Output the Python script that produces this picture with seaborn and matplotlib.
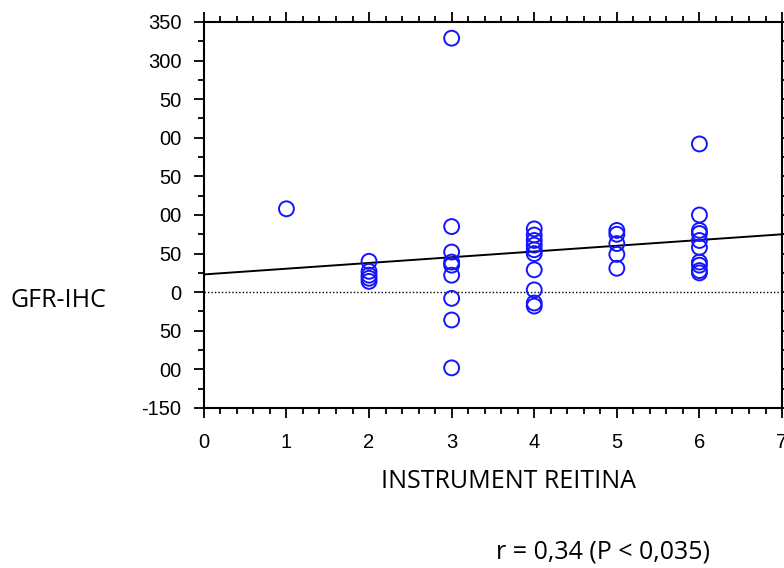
import matplotlib
matplotlib.use("Agg")
import matplotlib.pyplot as plt
import numpy as np
import pandas as pd
import seaborn as sns

# instrument score (x) and GFR-IHC value (y)
score_1 = [108]
score_2 = [40, 27, 22, 18, 14]
score_3 = [329, 85, 52, 39, 35, 22, -8, -36, -98]
score_4 = [82, 74, 67, 61, 55, 50, 29, 3, -14, -18]
score_5 = [80, 75, 63, 49, 31]
score_6 = [192, 100, 80, 76, 67, 58, 39, 35, 28, 25]

fit_x = [0, 7]
fit_y = [23, 75]

y_ticks = [-150, -100, -50, 0, 50, 100, 150, 200, 250, 300, 350]
y_tick_labels = ["-150", "00", "50", "0", "50", "00", "50", "00", "50", "300", "350"]
x_ticks = [0, 1, 2, 3, 4, 5, 6, 7]

x_label = "INSTRUMENT REITINA"
y_label = "GFR-IHC"
stat_text = "r = 0,34 (P < 0,035)"

groups = {1: score_1, 2: score_2, 3: score_3, 4: score_4, 5: score_5, 6: score_6}
df = pd.DataFrame(
    [(k, v) for k, vals in groups.items() for v in vals], columns=["score", "gfr"]
)

sns.set_style("ticks")
plt.rcParams["font.family"] = ["Liberation Sans", "DejaVu Sans"]
plt.rcParams["text.color"] = "black"

fig = plt.figure(figsize=(7.84, 5.68), dpi=100)
ax = fig.add_axes([0.260, 0.2817, 0.7375, 0.6796])

ax.axhline(0, color="black", linestyle=(0, (1, 1.5)), linewidth=1.0, zorder=1)
sns.lineplot(x=fit_x, y=fit_y, color="black", linewidth=1.4, ax=ax, zorder=2)
sns.scatterplot(
    data=df, x="score", y="gfr", marker="o", s=115,
    facecolors="none", edgecolor="#1414ff", linewidth=1.4, ax=ax, zorder=3,
)

ax.set_xlim(0, 7)
ax.set_ylim(-150, 350)
ax.set_xticks(x_ticks)
ax.set_xticklabels([str(t) for t in x_ticks])
ax.set_yticks(y_ticks)
ax.set_yticklabels(y_tick_labels)
ax.set_xticks(np.arange(0, 7.01, 0.2), minor=True)
ax.set_yticks(np.arange(-150, 351, 25), minor=True)

ax.tick_params(which="both", direction="out", top=True, right=True,
               labeltop=False, labelright=False, color="black", width=1.3,
               labelcolor="black")
ax.tick_params(which="major", length=7, labelsize=14.5)
ax.tick_params(axis="x", which="major", pad=11)
ax.tick_params(axis="y", which="major", pad=9)
ax.tick_params(which="minor", length=4)

for sp in ax.spines.values():
    sp.set_visible(True)
    sp.set_color("black")
    sp.set_linewidth(1.5)

ax.set_xlabel("")
ax.set_ylabel("")

label_font = ["Open Sans", "DejaVu Sans"]
fig.text(0.648, 0.152, x_label, ha="center", va="center", fontsize=18,
         family=label_font, color="black")
fig.text(0.075, 0.471, y_label, ha="center", va="center", fontsize=18,
         family=label_font, color="black")
fig.text(0.769, 0.028, stat_text, ha="center", va="center", fontsize=18,
         family=label_font, color="black")

fig.savefig("out.png", dpi=100)
